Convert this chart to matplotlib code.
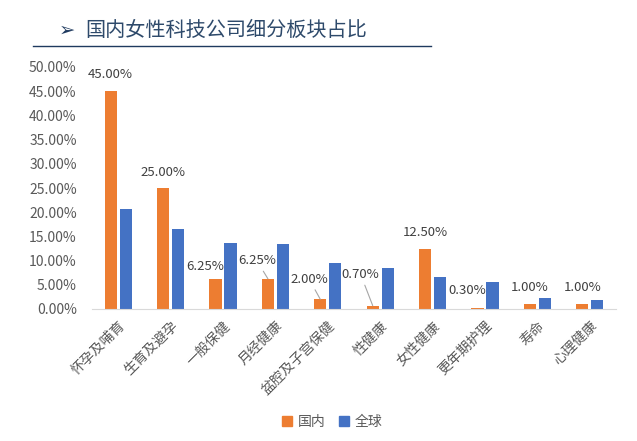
import numpy as np
import matplotlib.pyplot as plt
from matplotlib.patches import Patch

plt.rcParams['font.family'] = ['Noto Sans CJK SC', 'DejaVu Sans']

# data (percent)
categories = ['怀孕及哺育', '生育及避孕', '一般保健', '月经健康', '盆腔及子宫保健',
              '性健康', '女性健康', '更年期护理', '寿命', '心理健康']
domestic = [45.00, 25.00, 6.25, 6.25, 2.00, 0.70, 12.50, 0.30, 1.00, 1.00]
world = [20.6, 16.5, 13.6, 13.5, 9.6, 8.5, 6.7, 5.6, 2.3, 1.9]

# label offsets in pixels from the top of each orange bar (dx, dy)
label_off = [(0, 17), (0, 16), (-10, 12), (-11, 18), (-11, 20),
             (-12, 31), (0, 16), (-10, 17), (0, 17), (0, 17)]
leader = [False, False, False, True, True, True, False, False, False, False]

orange = '#ED7D31'
blue = '#4472C4'

fig = plt.figure(figsize=(6.37, 4.41), dpi=100)
ax = fig.add_axes([92/637, 1-309/441, (616-92)/637, (309-67)/441])

x = np.arange(len(categories))
w = 0.23
ax.bar(x - 0.143, domestic, w, color=orange)
ax.bar(x + 0.143, world, w, color=blue)

ax.set_xlim(-0.5, len(categories) - 0.5)
ax.set_ylim(0, 50)
ax.set_yticks(np.arange(0, 51, 5))
ax.set_yticklabels([f'{v:.2f}%' for v in np.arange(0, 51, 5)], fontsize=10)
ax.set_xticks(x)
ax.set_xticklabels(categories, rotation=45, ha='right', rotation_mode='anchor',
                   fontsize=10)

for s in ['top', 'right', 'left']:
    ax.spines[s].set_visible(False)
ax.spines['bottom'].set_color('#D9D9D9')
ax.tick_params(axis='both', length=0, colors='#595959')
ax.tick_params(axis='y', pad=11)
ax.tick_params(axis='x', pad=7)

for i, v in enumerate(domestic):
    dx, dy = label_off[i]
    ap = None
    if leader[i]:
        ap = dict(arrowstyle='-', color='#A6A6A6', lw=0.8, shrinkA=1, shrinkB=0)
    ax.annotate(f'{v:.2f}%', xy=(x[i] - 0.143, v), xytext=(dx, dy),
                textcoords='offset pixels', ha='center', va='center',
                fontsize=9.5, color='#404040', arrowprops=ap)

# title with underline
fig.text(59/637, 1-30/441, '➢', fontsize=14, color='#1F3A5F', va='center',
         family=['DejaVu Sans'])
fig.text(85/637, 1-30/441, '国内女性科技公司细分板块占比', fontsize=14.5,
         color='#2E4A6B', va='center')
fig.add_artist(plt.Line2D([33/637, 431/637], [1-46/441, 1-46/441],
                          color='#1F3A5F', lw=1.0))

handles = [Patch(color=orange, label='国内'), Patch(color=blue, label='全球')]
fig.legend(handles=handles, loc='center', bbox_to_anchor=(332/637, 1-422/441),
           ncol=2, frameon=False, fontsize=10, handlelength=0.7, handleheight=0.7,
           handletextpad=0.4, columnspacing=1.0, labelcolor='#595959')

fig.savefig('out.png', dpi=100)
